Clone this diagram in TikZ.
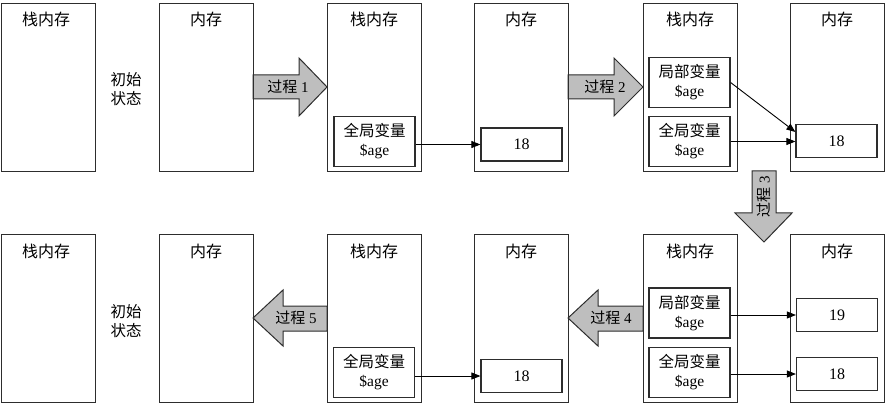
\documentclass[tikz,border=0pt]{standalone}
\usepackage{fontspec}
\setmainfont{Liberation Serif}
\newfontfamily\cjk{Noto Sans CJK SC}
\usetikzlibrary{arrows.meta,calc}
\definecolor{arrowgray}{RGB}{190,190,190}
\definecolor{edge}{RGB}{45,45,45}
\tikzset{
 panel/.style={draw=edge,line width=1.2pt,minimum width=94pt,minimum height=168pt,inner sep=0pt,anchor=north west},
 title/.style={font=\cjk\fontsize{16}{18}\selectfont},
 varbox/.style={draw=edge,line width=1.2pt,minimum width=81pt,minimum height=50pt,inner sep=0pt,align=center,font=\fontsize{15.5}{19}\selectfont},
 membox/.style={draw=edge,line width=1.2pt,minimum width=81pt,minimum height=33pt,inner sep=0pt,font=\fontsize{16}{18}\selectfont},
 link/.style={draw=black,line width=0.9pt,-{Triangle[length=9pt,width=7pt]}},
 bigarrow/.style={draw=edge,line width=1pt,fill=arrowgray},
 arrowtext/.style={font=\fontsize{15}{17}\selectfont},
 note/.style={align=center,font=\cjk\fontsize{15.5}{19}\selectfont}
}
\begin{document}
\begin{tikzpicture}[x=1pt,y=-1pt]
\useasboundingbox (0,0) rectangle (885,403);
% big arrows
\draw[bigarrow] (253,75)--(299,75)--(299,58)--(327,87)--(299,116)--(299,99)--(253,99)--cycle;
\draw[bigarrow] (568,75)--(614,75)--(614,58)--(643,87)--(614,116)--(614,99)--(568,99)--cycle;
\draw[bigarrow] (752,171)--(752,213)--(735,213)--(764,242)--(792,213)--(776,213)--(776,171)--cycle;
\draw[bigarrow] (643,306)--(598,306)--(598,290)--(568,318)--(598,346)--(598,331)--(643,331)--cycle;
\draw[bigarrow] (327,306)--(283,306)--(283,290)--(253,318)--(283,346)--(283,331)--(327,331)--cycle;
\node[arrowtext] (a1) at (288,87) {{\cjk 过程} 1};
\node[arrowtext] (a2) at (605,87) {{\cjk 过程} 2};
\node[arrowtext,rotate=90] (a3) at (764,197) {{\cjk 过程} 3};
\node[arrowtext] (a4) at (611,318) {{\cjk 过程} 4};
\node[arrowtext] (a5) at (296,318) {{\cjk 过程} 5};
% top row panels
\node[panel] (t1) at (1,3) {};
\node[panel] (t2) at (159,3) {};
\node[panel] (t3) at (327,3) {};
\node[panel] (t4) at (474,3) {};
\node[panel] (t5) at (643,3) {};
\node[panel] (t6) at (790,3) {};
\node[title] (tt1) at (46,19) {栈内存};
\node[title] (tt2) at (206,19) {内存};
\node[title] (tt3) at (374,19) {栈内存};
\node[title] (tt4) at (521,19) {内存};
\node[title] (tt5) at (690,19) {栈内存};
\node[title] (tt6) at (837,19) {内存};
\node[note] (n1) at (126,89) {初始\\状态};
% bottom row panels
\node[panel] (b1) at (1,234) {};
\node[panel] (b2) at (159,234) {};
\node[panel] (b3) at (327,234) {};
\node[panel] (b4) at (474,234) {};
\node[panel] (b5) at (643,234) {};
\node[panel] (b6) at (790,234) {};
\node[title] (bt1) at (46,251) {栈内存};
\node[title] (bt2) at (206,251) {内存};
\node[title] (bt3) at (374,251) {栈内存};
\node[title] (bt4) at (521,251) {内存};
\node[title] (bt5) at (690,251) {栈内存};
\node[title] (bt6) at (837,251) {内存};
\node[note] (n2) at (126,321) {初始\\状态};
% top inner boxes
\node[varbox] (g1) at (374.5,141.5) {{\cjk 全局变量}\\\$age};
\node[membox] (m1) at (521.5,144.5) {18};
\node[varbox] (l2) at (689.5,82.5) {{\cjk 局部变量}\\\$age};
\node[varbox] (g2) at (689.5,141.5) {{\cjk 全局变量}\\\$age};
\node[membox] (m2) at (836.5,141) {18};
\draw[link] (g1.east |- m1.west) -- (m1.west);
\draw[link] (l2.east) -- ([yshift=9pt]m2.west);
\draw[link] (g2.east) -- (g2.east -| m2.west);
% bottom inner boxes
\node[varbox] (g3) at (374,372.5) {{\cjk 全局变量}\\\$age};
\node[membox] (m3) at (521.5,376) {18};
\node[varbox] (l4) at (689.5,313) {{\cjk 局部变量}\\\$age};
\node[varbox] (g4) at (689.5,372.5) {{\cjk 全局变量}\\\$age};
\node[membox] (m4) at (837,315) {19};
\node[membox] (m5) at (837,374) {18};
\draw[link] (g3.east |- m3.west) -- (m3.west);
\draw[link] (l4.east |- m4.west) -- (m4.west);
\draw[link] (g4.east |- m5.west) -- (m5.west);
\end{tikzpicture}
\end{document}
